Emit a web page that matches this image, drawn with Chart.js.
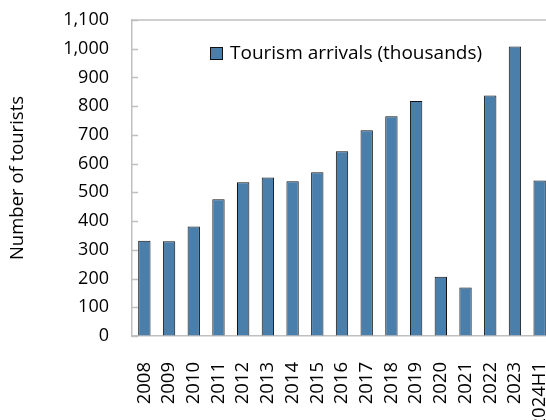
<!DOCTYPE html>
<html>
<head>
<meta charset="utf-8">
<script src="https://cdn.jsdelivr.net/npm/chart.js@4"></script>
<style>
    html, body { margin: 0; padding: 0; background: #fff; overflow: hidden; }
    #wrap { width: 560px; height: 420px; }
</style>
</head>
<body>
<div id="wrap"><canvas id="tourChart" width="560" height="420"></canvas></div>
<script>
// ===== DATA =====
var years = ['2008', '2009', '2010', '2011', '2012', '2013', '2014', '2015', '2016',
             '2017', '2018', '2019', '2020', '2021', '2022', '2023', '2024H1'];
var arrivals = [332, 330, 381, 476, 535, 552, 539, 570, 643,
                716, 765, 818, 206, 169, 837, 1008, 541];
var seriesName = 'Tourism arrivals (thousands)';
var axisTitle = 'Number of tourists';

var FONT = '"Open Sans", "Noto Sans", sans-serif';
var GREY = '#c0c0c0';

// inside tick marks on the y axis, top frame line, legend inside the plot
var framePlugin = {
    id: 'frame',
    afterDatasetsDraw: function(chart) {
        var ctx = chart.ctx;
        var area = chart.chartArea;
        var y = chart.scales.y;
        ctx.save();
        ctx.strokeStyle = GREY;
        ctx.lineWidth = 1.5;
        ctx.beginPath();
        ctx.moveTo(area.left, area.top);
        ctx.lineTo(area.right, area.top);
        for (var i = 0; i < y.ticks.length; i++) {
            var py = Math.round(y.getPixelForValue(y.ticks[i].value)) + 0.5;
            ctx.moveTo(area.left, py);
            ctx.lineTo(area.left + 6, py);
        }
        ctx.stroke();

        // legend
        var ds = chart.data.datasets[0];
        var bx = area.left + 78, by = area.top + 27;
        ctx.fillStyle = ds.backgroundColor;
        ctx.fillRect(bx, by, 13, 13);
        ctx.strokeStyle = ds.borderColor;
        ctx.lineWidth = 1;
        ctx.strokeRect(bx + 0.5, by + 0.5, 12, 12);
        ctx.fillStyle = '#000';
        ctx.font = '19px ' + FONT;
        ctx.textBaseline = 'middle';
        ctx.textAlign = 'left';
        ctx.fillText(ds.label, bx + 20, by + 7);
        ctx.restore();
    }
};

function noPad(scale) {
    scale.paddingTop = 0;
    scale.paddingBottom = 0;
    scale.paddingLeft = 0;
    scale.paddingRight = 0;
}

var ctx = document.getElementById('tourChart').getContext('2d');
var myChart = new Chart(ctx, {
    type: 'bar',
    data: {
        labels: years,
        datasets: [{
            label: seriesName,
            data: arrivals,
            backgroundColor: '#4a7eab',
            borderColor: '#111',
            borderWidth: 1,
            categoryPercentage: 1,
            barPercentage: 0.5
        }]
    },
    options: {
        responsive: false,
        animation: false,
        layout: { padding: { left: 0, right: 8, top: 20, bottom: 0 } },
        plugins: {
            legend: { display: false },
            tooltip: { enabled: false }
        },
        scales: {
            x: {
                grid: { display: false, drawTicks: false },
                border: { color: GREY, width: 1.5 },
                ticks: {
                    color: '#000',
                    font: { family: FONT, size: 18.5 },
                    minRotation: 90,
                    maxRotation: 90,
                    padding: 26,
                    autoSkip: false
                },
                afterFit: function(scale) { scale.height = 84; noPad(scale); }
            },
            y: {
                min: 0,
                max: 1100,
                grid: { display: true, drawOnChartArea: false, drawTicks: false },
                border: { color: GREY, width: 1.5 },
                ticks: {
                    stepSize: 100,
                    color: '#000',
                    font: { family: FONT, size: 18 },
                    padding: 23,
                    callback: function(v) { return v.toLocaleString('en-US'); }
                },
                title: {
                    display: true,
                    text: axisTitle,
                    color: '#000',
                    font: { family: FONT, size: 18.5 },
                    padding: { top: 7, bottom: 0 }
                },
                afterFit: function(scale) { scale.width = 132; noPad(scale); }
            }
        }
    },
    plugins: [framePlugin]
});
</script>
</body>
</html>
